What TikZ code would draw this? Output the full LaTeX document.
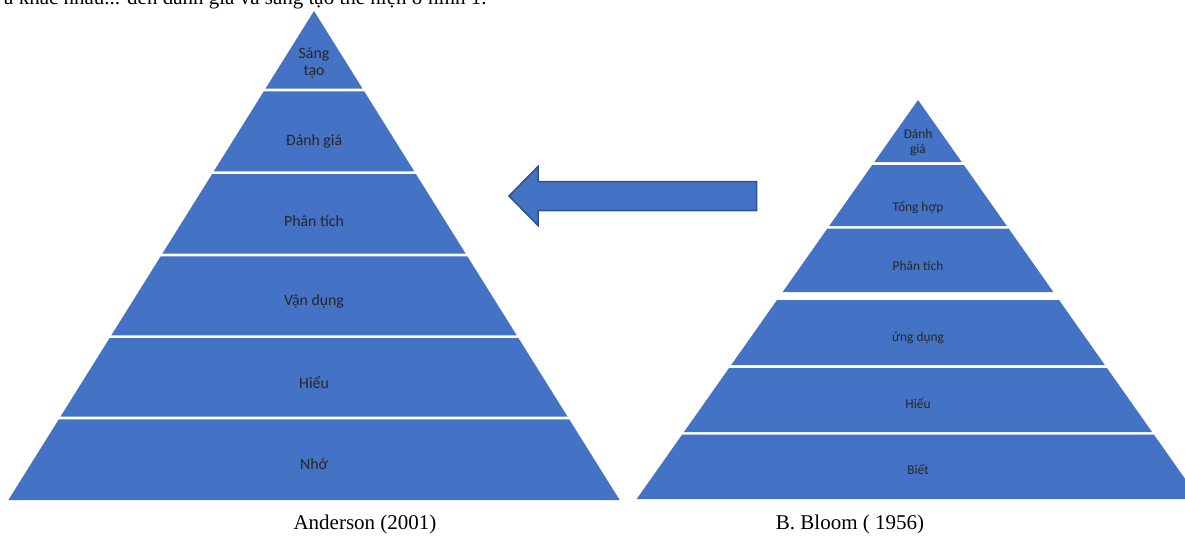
\documentclass[tikz,border=0pt]{standalone}
\usepackage{fontspec}
\setmainfont{Liberation Serif}
\newfontfamily\bandfont{Carlito}
\usetikzlibrary{calc}
\definecolor{pyrblue}{HTML}{4472C4}
\definecolor{pyredge}{HTML}{2F528F}

\begin{document}
\begin{tikzpicture}[
  x=1pt,y=-1pt,
  band/.style={fill=pyrblue,draw=none},
  bandlabel/.style={font=\bandfont\fontsize{15.8}{17}\selectfont,text=black!85,align=center,inner sep=0pt},
  smalllabel/.style={bandlabel,font=\bandfont\fontsize{13.4}{15}\selectfont},
  caption/.style={font=\fontsize{21}{24}\selectfont,inner sep=0pt},
  arrowbox/.style={fill=pyrblue,draw=pyredge,line width=1.5pt,line join=miter},
  ]
\useasboundingbox (0,0) rectangle (1185,535);
\clip (0,0) rectangle (1185,535);

% cut-off line of the page text above the figure
\node (pagetext) [caption,anchor=base west] at (4,5) {a khác nhau... đến đánh giá và sáng tạo thể hiện ở hình 1.};

% Anderson pyramid, apex (314,11)
\foreach \t/\b in {11/88.7,91.3/171.3,174/253.7,256.3/335.3,338/416.7,419.3/500}
  \fill[band] ({314-0.625*(\t-11)},\t) -- ({314+0.625*(\t-11)},\t)
    -- ({314+0.625*(\b-11)},\b) -- ({314-0.625*(\b-11)},\b) -- cycle;
\foreach \i/\y/\txt in {1/63/{Sáng\\tạo},2/141/Đánh giá,3/221/Phân tích,4/301/Vận dụng,5/382/Hiểu,6/464/Nhớ}
  \node (and_\i) [bandlabel] at (314,\y) {\txt};

% Bloom pyramid, apex (918,100)
\foreach \t/\b in {100/162,165/226,228.5/292,300/365,368/432,434.5/499}
  \fill[band] ({918-0.705*(\t-100)},\t) -- ({918+0.705*(\t-100)},\t)
    -- ({918+0.705*(\b-100)},\b) -- ({918-0.705*(\b-100)},\b) -- cycle;
\foreach \i/\y/\txt in {1/142/{Đánh\\giá},2/207/Tổng hợp,3/266/Phân tích,4/338/ứng dụng,5/403/Hiểu,6/470/Biết}
  \node (blm_\i) [smalllabel] at (918,\y) {\txt};

% arrow from Bloom to Anderson
\coordinate (arr_tip) at (509,196);
\coordinate (arr_tail) at (756.5,196);
\draw[arrowbox] (arr_tip) -- ($(arr_tip)+(29,-29.5)$) -- ($(arr_tip)+(29,-14.5)$)
  -- ($(arr_tail)+(0,-14.5)$) -- ($(arr_tail)+(0,14.5)$)
  -- ($(arr_tip)+(29,14.5)$) -- ($(arr_tip)+(29,29.5)$) -- cycle;

\node (cap_and) [caption] at (365,524) {Anderson (2001)};
\node (cap_blm) [caption] at (850,524) {B. Bloom ( 1956)};

\end{tikzpicture}
\end{document}
